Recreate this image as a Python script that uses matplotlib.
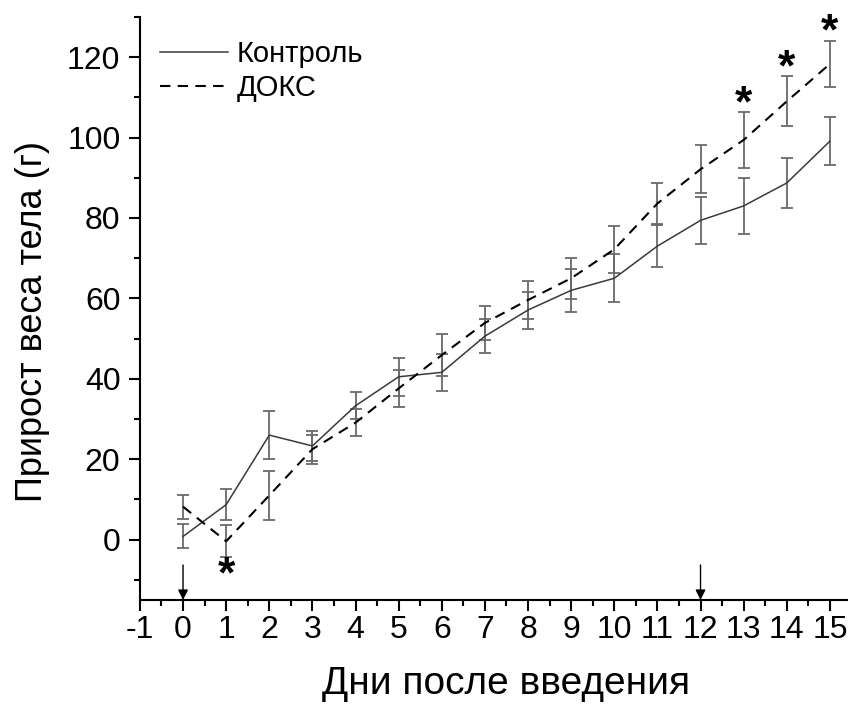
import matplotlib
matplotlib.use('Agg')
import matplotlib.pyplot as plt
from matplotlib.ticker import MultipleLocator

plt.rcParams['font.family'] = ['Liberation Sans', 'DejaVu Sans']
plt.rcParams['axes.unicode_minus'] = False

days = list(range(16))
control = [0.8, 8.7, 26.0, 23.3, 33.3, 40.5, 41.6, 50.6, 57.1, 62.0, 65.0, 73.0, 79.4, 83.0, 88.7, 99.1]
control_err = [3.0, 3.9, 6.0, 3.7, 3.3, 4.7, 4.6, 4.3, 4.6, 5.3, 6.0, 5.2, 5.9, 7.0, 6.3, 6.0]
doks = [8.2, -0.4, 11.0, 22.5, 29.1, 37.6, 45.9, 53.9, 59.6, 65.0, 72.2, 83.6, 92.1, 99.4, 109.0, 118.3]
doks_err = [3.0, 4.0, 6.0, 3.6, 3.3, 4.7, 5.2, 4.3, 4.7, 5.1, 5.9, 5.1, 6.0, 7.0, 6.2, 5.8]

star_days = [1, 13, 14, 15]
star_y = [-9.0, 108.0, 117.0, 126.0]
arrow_days = [0, 12]

fig = plt.figure(figsize=(8.48, 7.05), dpi=100)
ax = fig.add_axes([0.165, 0.149, 0.835, 0.827])

ax.errorbar(days, control, yerr=control_err, color='#3a3a3a', lw=1.1,
            ecolor='#6a6a6a', elinewidth=1.3, capsize=4.5, capthick=1.3,
            label='Контроль')
ax.errorbar(days, doks, yerr=doks_err, color='black', lw=1.5, ls=(0, (5, 3.5)),
            ecolor='#6a6a6a', elinewidth=1.3, capsize=4.5, capthick=1.3,
            label='ДОКС')

for d, y in zip(star_days, star_y):
    ax.text(d, y, '*', ha='center', va='center', fontsize=32, fontweight='bold')

for d in arrow_days:
    ax.annotate('', xy=(d, -15), xytext=(d, -6.3),
                arrowprops=dict(arrowstyle='-|>', color='black', lw=1,
                                mutation_scale=15, shrinkA=0, shrinkB=0))

ax.set_xlim(-1, 15.42)
ax.set_ylim(-15, 130)
ax.xaxis.set_major_locator(MultipleLocator(1))
ax.xaxis.set_minor_locator(MultipleLocator(0.5))
ax.yaxis.set_major_locator(MultipleLocator(20))
ax.yaxis.set_minor_locator(MultipleLocator(10))
ax.spines['top'].set_visible(False)
ax.spines['right'].set_visible(False)
for s in ['left', 'bottom']:
    ax.spines[s].set_linewidth(1.5)
ax.tick_params(which='major', direction='out', length=8, width=1.5, labelsize=23)
ax.tick_params(which='minor', direction='out', length=4.5, width=1.5)
ax.tick_params(axis='x', pad=3)
ax.tick_params(axis='y', pad=6)

ax.set_xlabel('Дни после введения', fontsize=28)
ax.set_ylabel('Прирост веса тела (г)', fontsize=26)
ax.xaxis.set_label_coords(0.517, -0.113)
ax.yaxis.set_label_coords(-0.127, 0.478)

handles, labels = ax.get_legend_handles_labels()
handles = [h[0] for h in handles]
ax.legend(handles, labels, loc='upper left', frameon=False, fontsize=21,
          handlelength=2.35, handletextpad=0.3, labelspacing=0.2,
          bbox_to_anchor=(-0.009, 1.005))

fig.savefig('out.png', dpi=100)
